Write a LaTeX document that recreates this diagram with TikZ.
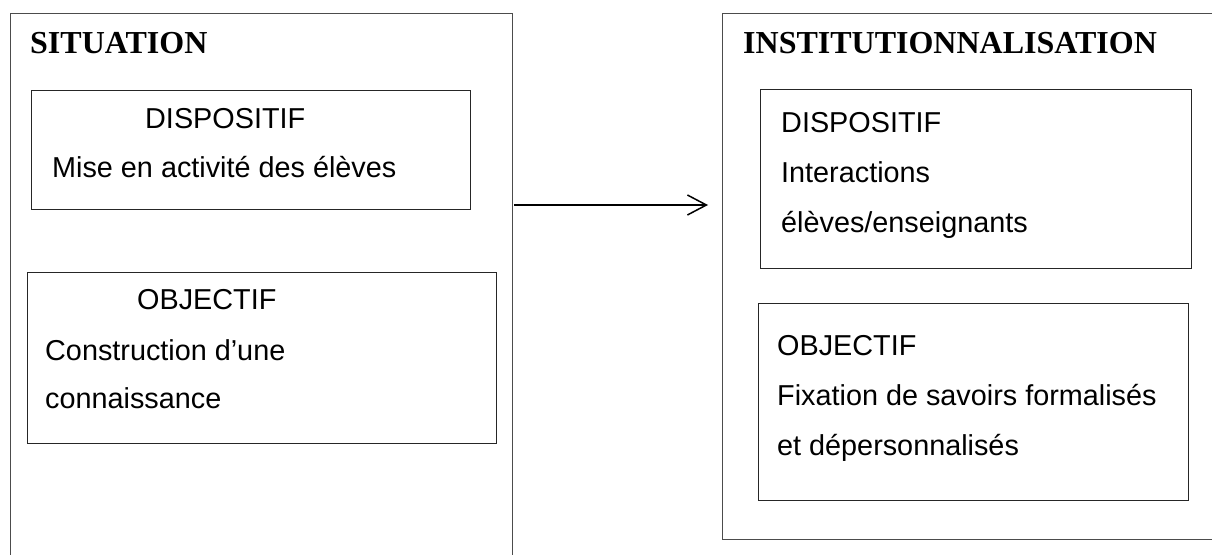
\documentclass[tikz,border=0pt]{standalone}
\usepackage{fontspec}
\setmainfont{Liberation Sans}
\newfontfamily\titlefont{Liberation Serif}
\usetikzlibrary{arrows.meta}
\begin{document}
\begin{tikzpicture}[x=1pt,y=-1pt,
  outerbox/.style={draw=black!70, line width=1.3pt, inner sep=0pt, anchor=north west},
  innerbox/.style={draw=black!85, line width=1.2pt, inner sep=0pt, anchor=north west},
  title/.style={anchor=base west, inner sep=0pt, font=\titlefont\bfseries\fontsize{32}{36}\selectfont},
  txt/.style={anchor=base west, inner sep=0pt, font=\fontsize{28.8}{33}\selectfont},
  conn/.style={draw=black, line width=1.5pt, -{Straight Barb[length=19pt,width=20pt,line width=1.5pt]}}]
\useasboundingbox (0,0) rectangle (1212,554);
\begin{scope}
\clip (0,0) rectangle (1212,554);
% outer boxes
\node[outerbox, minimum width=502pt, minimum height=580pt] (left) at (10,13) {};
\node[outerbox, minimum width=520pt, minimum height=526pt] (right) at (722,13) {};
% inner boxes
\node[innerbox, minimum width=439pt, minimum height=119pt] (ld) at (31,90) {};
\node[innerbox, minimum width=469pt, minimum height=171pt] (lo) at (27,272) {};
\node[innerbox, minimum width=431pt, minimum height=179pt] (rd) at (760,89) {};
\node[innerbox, minimum width=430pt, minimum height=197pt] (ro) at (758,303) {};
\end{scope}
% titles
\node[title] (t1) at (30,53) {SITUATION};
\node[title] (t2) at (743,53) {INSTITUTIONNALISATION};
% left texts
\node[txt] (ld1) at (145,128) {DISPOSITIF};
\node[txt] (ld2) at (52,177) {Mise en activité des élèves};
\node[txt] (lo1) at (137,309) {OBJECTIF};
\node[txt] (lo2) at (45,360) {Construction d’une};
\node[txt] (lo3) at (45,408) {connaissance};
% right texts
\node[txt] (rd1) at (781,132) {DISPOSITIF};
\node[txt] (rd2) at (781,182) {Interactions};
\node[txt] (rd3) at (781,232) {élèves/enseignants};
\node[txt] (ro1) at (777,355) {OBJECTIF};
\node[txt] (ro2) at (777,405) {Fixation de savoirs formalisés};
\node[txt] (ro3) at (777,455) {et dépersonnalisés};
% arrow
\coordinate (as) at (514,205);
\coordinate (ae) at (708,205);
\draw[conn] (as) -- (ae);
\end{tikzpicture}
\end{document}
